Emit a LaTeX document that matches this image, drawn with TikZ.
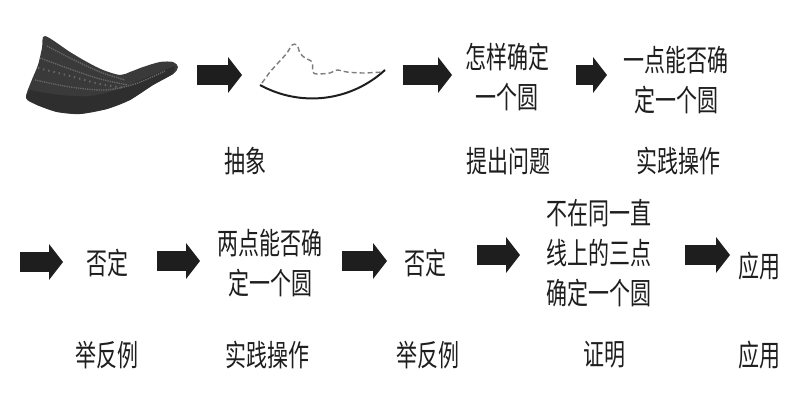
\documentclass[tikz,border=0pt]{standalone}
\usepackage{xcolor}
\usepackage{fontspec}
\newfontfamily\cjk[FakeStretch=0.7]{Noto Sans CJK SC}
\usepackage{tikz}
\usetikzlibrary{arrows.meta}

\begin{document}
\begin{tikzpicture}[x=1pt,y=-1pt]
    \definecolor{myink}{RGB}{30,30,30}
    \definecolor{myshard}{RGB}{58,58,58}
    \definecolor{myrim}{RGB}{46,46,46}
    \definecolor{mybead}{RGB}{105,105,105}
    \definecolor{mydash}{RGB}{125,125,125}

    \tikzstyle{format}=[font=\cjk\fontsize{30}{40}\selectfont,align=center,text=myink,inner sep=0pt]  % 文字块
    \tikzstyle{fat}=[line width=20pt,draw=myink,-{Triangle[width=36pt,length=14pt,line width=0pt]}]  % 粗箭头
    \tikzstyle{bead}=[mybead,densely dotted,line width=1.3pt]  % 陶片花纹

    \useasboundingbox (0,0) rectangle (800,401);

    % 陶片
    \fill[myshard] plot[smooth cycle,tension=0.5] coordinates {(45,36) (70,52) (87,62) (103,70) (120,75) (130,72) (143,67) (160,62) (173,62) (178,67) (173,74) (153,85) (130,100) (107,109) (80,114) (57,112) (37,105) (26,98) (31,82) (38,65) (42,48)};
    \fill[myrim] plot[smooth] coordinates {(29,90) (60,95) (90,96) (120,89) (150,76) (175,66)} -- (173,74) -- (153,85) -- (130,100) -- (107,109) -- (80,114) -- (57,112) -- (37,105) -- (26,98) -- cycle;
    \draw[bead] plot[smooth] coordinates {(47,46) (70,58) (100,72) (125,80)};
    \draw[bead] plot[smooth] coordinates {(40,58) (70,69) (100,79) (128,85)};
    \draw[bead,loosely dotted,line width=2pt] plot[smooth] coordinates {(38,68) (70,76) (100,84) (125,88)};
    \draw[bead] plot[smooth] coordinates {(35,80) (70,87) (105,90) (135,84) (165,71)};

    % 抽象出的圆弧
    \draw[line width=2pt,myink] (260,85) .. controls (300,107) and (350,102) .. (385,70);
    \draw[mydash,dash pattern=on 5pt off 3pt,line width=1.4pt] plot[smooth,tension=0.5] coordinates {(262,83) (270,72) (278,63) (287,53) (292,45) (297,45) (300,53) (305,58) (312,62) (313,72) (317,74) (330,73) (337,70) (347,72) (363,73) (383,72)};

    % 定义note
    \node[format] (q1) at (507,77) {怎样确定\\一个圆};
    \node[format] (q2) at (676,80) {一点能否确\\定一个圆};
    \node[format] (n1) at (107,263) {否定};
    \node[format] (q3) at (270,263) {两点能否确\\定一个圆};
    \node[format] (n2) at (425,263) {否定};
    \node[format] (q4) at (599,253) {不在同一直\\线上的三点\\确定一个圆};
    \node[format] (use) at (759,266) {应用};

    \node[format] (l1) at (245,161) {抽象};
    \node[format] (l2) at (508,161) {提出问题};
    \node[format] (l3) at (678,161) {实践操作};
    \node[format] (l4) at (107,355) {举反例};
    \node[format] (l5) at (267,355) {实践操作};
    \node[format] (l6) at (428,355) {举反例};
    \node[format] (l7) at (604,355) {证明};
    \node[format] (l8) at (759,355) {应用};

    % 箭头端点
    \coordinate (a1s) at (197,75);  \coordinate (a1e) at (242,75);
    \coordinate (a2s) at (403,75);  \coordinate (a2e) at (452,75);
    \coordinate (a3s) at (576,75);  \coordinate (a3e) at (607,75);
    \coordinate (a4s) at (20,262);  \coordinate (a4e) at (63,262);
    \coordinate (a5s) at (157,261); \coordinate (a5e) at (200,261);
    \coordinate (a6s) at (342,261); \coordinate (a6e) at (387,261);
    \coordinate (a7s) at (477,255); \coordinate (a7e) at (520,255);
    \coordinate (a8s) at (685,255); \coordinate (a8e) at (730,255);

    % 开始画线
    \draw[fat] (a1s)--(a1e);
    \draw[fat] (a2s)--(a2e);
    \draw[fat] (a3s)--(a3e);
    \draw[fat] (a4s)--(a4e);
    \draw[fat] (a5s)--(a5e);
    \draw[fat] (a6s)--(a6e);
    \draw[fat] (a7s)--(a7e);
    \draw[fat] (a8s)--(a8e);
\end{tikzpicture}
\end{document}
